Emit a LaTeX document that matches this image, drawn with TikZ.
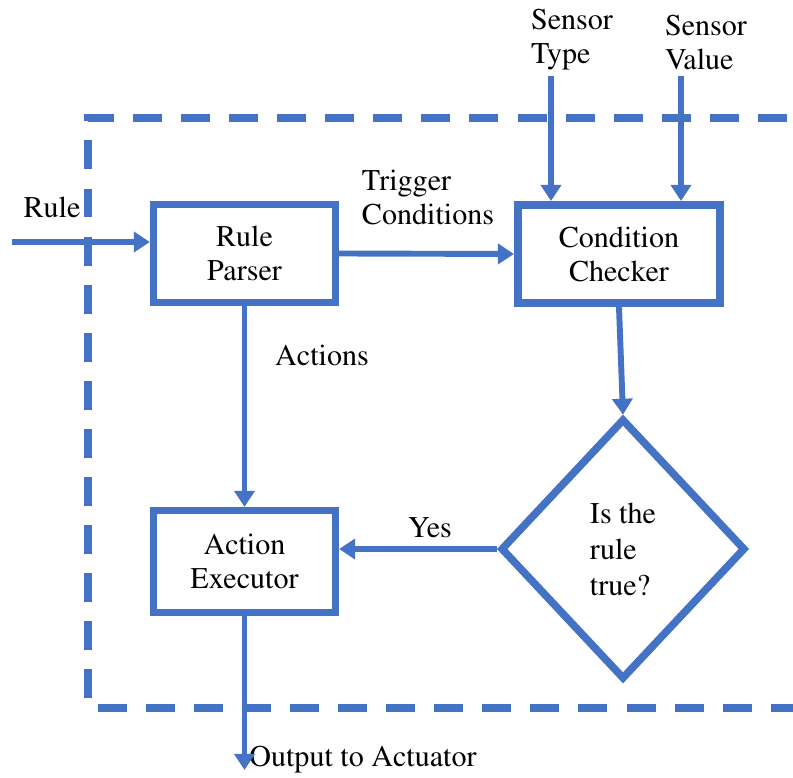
\documentclass[tikz,border=0pt]{standalone}
\usepackage[T1]{fontenc}
\usepackage{times}
\usetikzlibrary{arrows.meta,shapes.geometric}
\definecolor{flowblue}{RGB}{68,114,196}

\begin{document}
\begin{tikzpicture}[x=0.0125cm,y=-0.0125cm,
  every node/.style={font=\fontsize{10.7}{12.1}\selectfont,text=black},
  block/.style={draw=flowblue,line width=2.7pt,fill=white,align=center,inner sep=0pt},
  decision/.style={diamond,draw=flowblue,line width=2.7pt,fill=white,align=left,inner sep=0pt,
    minimum width=3.06cm,minimum height=3.26cm,font=\fontsize{10.7}{12.8}\selectfont},
  flow/.style={draw=flowblue,line width=2.1pt,-{Triangle[length=5.7pt,width=7.1pt]}},
  frame/.style={draw=flowblue,line width=3pt,dash pattern=on 10.3pt off 6.8pt,dash phase=1.8pt}]
\clip (0,0) rectangle (793,778);
\draw[frame] (830,118) -| (88,708) -- (830,708);
\node[block,minimum width=2.27cm,minimum height=1.22cm] (parser) at (244.5,253.5) {Rule\\Parser};
\node[block,minimum width=2.53cm,minimum height=1.23cm] (checker) at (619,254) {Condition\\Checker};
\node[block,minimum width=2.27cm,minimum height=1.27cm] (executor) at (244.5,561.5) {Action\\Executor};
\node[decision] (check) at (623,549) {Is the\\rule\\true?};
\node (rulelbl) at (52,207) {Rule};
\node[align=left] (triglbl) at (428,197) {Trigger\\Conditions};
\node[align=left] (typelbl) at (572,40) {Sensor\\Type};
\node[align=left] (valuelbl) at (706,42) {Sensor\\Value};
\node (actlbl) at (322,355) {Actions};
\node (yeslbl) at (430,528) {Yes};
\node (outlbl) at (363,760) {Output to Actuator};
\coordinate (rulein) at (12,242);
\coordinate (typein) at (551,76);
\coordinate (valuein) at (681,76);
\coordinate (actout) at (244.5,770);
\draw[flow] (rulein) -- (rulein -| parser.west);
\draw[flow] (parser.east) -- (checker.west);
\draw[flow] (typein) -- (typein |- checker.north);
\draw[flow] (valuein) -- (valuein |- checker.north);
\draw[flow] (checker.south) -- (check.north);
\draw[flow] (parser.south) -- (executor.north);
\draw[flow] (check.west) -- (check.west -| executor.east);
\draw[flow] (executor.south) -- (actout);
\end{tikzpicture}
\end{document}
